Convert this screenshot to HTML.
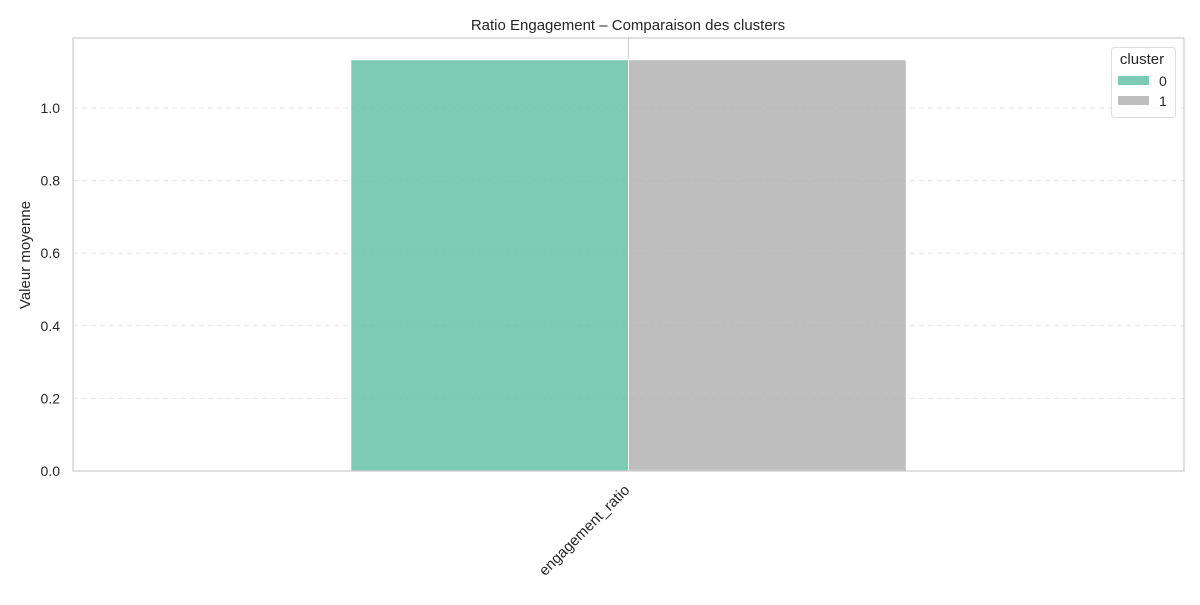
<!DOCTYPE html>
<html><head><meta charset="utf-8"><style>
body{margin:0;background:#fff;}
svg{font-family:"Liberation Sans","DejaVu Sans",sans-serif;}
</style></head><body>
<svg id="chart" width="1200" height="600">
<text x="628" y="30" text-anchor="middle" font-size="15" fill="#262626">Ratio Engagement – Comparaison des clusters</text>
<text transform="translate(30,255) rotate(-90)" text-anchor="middle" font-size="15" fill="#262626">Valeur moyenne</text>
<g id="grid"></g><g id="bars"></g><g id="ticks"></g>
<rect x="73" y="38" width="1111" height="433" fill="none" stroke="#ccc" stroke-width="1.2"/>
<g>
<rect x="1111.5" y="47.5" width="64" height="70" rx="3" fill="#fff" fill-opacity="0.8" stroke="#ddd"/>
<text x="1142" y="64" text-anchor="middle" font-size="15" fill="#262626">cluster</text>
<rect x="1118" y="76" width="31" height="9" fill="#66c2a5" fill-opacity="0.85"/>
<text x="1159" y="86" font-size="14" fill="#262626">0</text>
<rect x="1118" y="96" width="31" height="9" fill="#b3b3b3" fill-opacity="0.85"/>
<text x="1159" y="106" font-size="14" fill="#262626">1</text>
</g>
</svg>
<script>
const categories=["engagement_ratio"];
const cluster0=[1.133];
const cluster1=[1.133];
const yTicks=[0,0.2,0.4,0.6,0.8,1.0];
const colors=["#66c2a5","#b3b3b3"];
const L=73,R=1184,T=38,B=471;
const y=v=>B-v*363;
const x=i=>L+(i+0.5)/categories.length*(R-L);
const ns="http://www.w3.org/2000/svg";
function mk(t,a,p){const e=document.createElementNS(ns,t);for(const k in a)e.setAttribute(k,a[k]);document.getElementById(p).appendChild(e);return e;}
yTicks.forEach(v=>{
 if(v>0){const g=mk("line",{x1:L,x2:R,y1:y(v),y2:y(v),stroke:"#e3e3e3","stroke-dasharray":"5,4"},"grid");
 
 }
 const t=mk("text",{x:L-13,y:y(v)+5,"text-anchor":"end","font-size":"14",fill:"#262626"},"ticks");
 t.textContent=v.toFixed(1);
 
 
});
const bw=(R-L)/categories.length*0.25;
categories.forEach((c,i)=>{
 const cx=x(i);
 const vg=mk("line",{x1:cx,x2:cx,y1:T,y2:B,stroke:"#ccc"},"grid");
 
 
 [cluster0,cluster1].forEach((s,j)=>{
  const r=mk("rect",{x:cx-bw+j*bw,y:y(s[i]),width:bw,height:B-y(s[i]),fill:colors[j],"fill-opacity":"0.85",stroke:"#fff","stroke-width":"1"},"bars");
  
  
 });
 const t=mk("text",{transform:`translate(${cx+2},${B+20}) rotate(-45)`,"text-anchor":"end","font-size":"15",fill:"#262626"},"ticks");
 t.textContent=c;
 
 
});
</script>
</body></html>
